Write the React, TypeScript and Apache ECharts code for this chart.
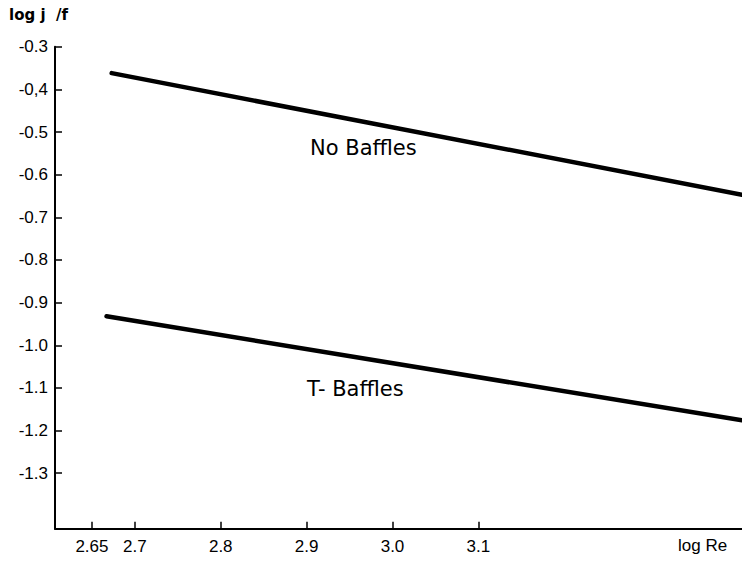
import React, { useEffect, useRef } from "react";
import * as echarts from "echarts";

const xTicks = [2.65, 2.7, 2.8, 2.9, 3.0, 3.1];
const xTickLabels = ["2.65", "2.7", "2.8", "2.9", "3.0", "3.1"];
const yTicks = [-0.3, -0.4, -0.5, -0.6, -0.7, -0.8, -0.9, -1.0, -1.1, -1.2, -1.3];
const yTickLabels = ["-0.3", "-0,4", "-0.5", "-0.6", "-0.7", "-0.8", "-0.9", "-1.0", "-1.1", "-1.2", "-1.3"];

const noBafflesX = [2.673, 3.407];
const noBafflesY = [-0.362, -0.647];
const tBafflesX = [2.667, 3.407];
const tBafflesY = [-0.932, -1.176];

const X_MIN = 2.607;
const X_MAX = 3.407;
const Y_MIN = -1.43;
const Y_MAX = -0.3;

const FONT = "DejaVu Sans";
const TICK_FONT = "Liberation Sans";

function lookup(ticks: number[], labels: string[], v: number): string {
  const i = ticks.findIndex((t) => Math.abs(t - v) < 1e-6);
  return i >= 0 ? labels[i] : "";
}

export default function App() {
  const ref = useRef<HTMLDivElement>(null);

  useEffect(() => {
    if (!ref.current) return;
    const chart = echarts.init(ref.current, null, { renderer: "svg" });
    const toPairs = (xs: number[], ys: number[]) => xs.map((x, i) => [x, ys[i]]);
    chart.setOption({
      animation: false,
      backgroundColor: "#fff",
      grid: { left: 55, right: 0, top: 46.7, bottom: 32.3, containLabel: false },
      xAxis: {
        type: "value",
        min: X_MIN,
        max: X_MAX,
        axisLine: { show: true, lineStyle: { color: "#000", width: 2 } },
        axisTick: {
          show: true,
          inside: true,
          length: 7,
          customValues: xTicks,
          lineStyle: { color: "#000", width: 1.5 },
        },
        axisLabel: {
          customValues: xTicks,
          formatter: (v: number) => lookup(xTicks, xTickLabels, v),
          margin: 9,
          color: "#000",
          fontSize: 17,
          fontFamily: TICK_FONT,
        },
        splitLine: { show: false },
      },
      yAxis: {
        type: "value",
        min: Y_MIN,
        max: Y_MAX,
        axisLine: { show: true, onZero: false, lineStyle: { color: "#000", width: 2 } },
        axisTick: {
          show: true,
          inside: true,
          length: 7,
          customValues: yTicks,
          lineStyle: { color: "#000", width: 1.5 },
        },
        axisLabel: {
          customValues: yTicks,
          formatter: (v: number) => lookup(yTicks, yTickLabels, v),
          margin: 7,
          color: "#000",
          fontSize: 17,
          fontFamily: TICK_FONT,
        },
        splitLine: { show: false },
      },
      series: [
        {
          name: "No Baffles",
          type: "line",
          data: toPairs(noBafflesX, noBafflesY),
          symbol: "none",
          lineStyle: { color: "#000", width: 4.5, cap: "round" },
        },
        {
          name: "T- Baffles",
          type: "line",
          data: toPairs(tBafflesX, tBafflesY),
          symbol: "none",
          lineStyle: { color: "#000", width: 4.5, cap: "round" },
        },
      ],
      graphic: [
        {
          type: "text",
          left: 9,
          top: 7,
          style: { text: "log j  /f", fill: "#000", font: `bold 15px ${FONT}` },
        },
        {
          type: "text",
          left: 678,
          top: 537,
          style: { text: "log Re", fill: "#000", font: `17px ${TICK_FONT}` },
        },
        {
          type: "text",
          left: 310,
          top: 137,
          style: { text: "No Baffles", fill: "#000", font: `21px ${FONT}` },
        },
        {
          type: "text",
          left: 307,
          top: 378,
          style: { text: "T- Baffles", fill: "#000", font: `21px ${FONT}` },
        },
      ],
    });
    return () => chart.dispose();
  }, []);

  return (
    <div
      ref={ref}
      style={{ position: "fixed", left: 0, top: 0, width: 742, height: 561, background: "#fff" }}
    />
  );
}
